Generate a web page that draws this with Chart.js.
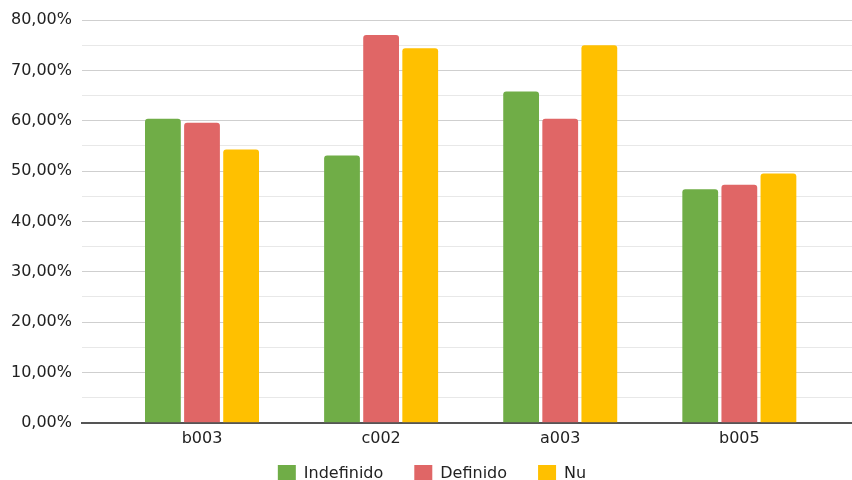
<!DOCTYPE html>
<html>
<head>
<meta charset="utf-8">
<script src="https://cdn.jsdelivr.net/npm/chart.js@4/dist/chart.umd.min.js"></script>
<style>
  html, body { margin: 0; padding: 0; background: #ffffff; }
  #wrap { width: 852px; height: 480px; }
</style>
</head>
<body>
<div id="wrap"><canvas id="chart" width="852" height="480"></canvas></div>
<script>
// Categories and series (percent values)
const categories = ['b003', 'c002', 'a003', 'b005'];
const indefinido = [60.4, 53.1, 65.8, 46.4];
const definido   = [59.6, 77.0, 60.4, 47.3];
const nu         = [54.3, 74.4, 75.0, 49.5];
const seriesNames = ['Indefinido', 'Definido', 'Nu'];
const yTickValues = [0, 10, 20, 30, 40, 50, 60, 70, 80];

const COLORS = ['#70AD47', '#E06666', '#FFC000'];
const FONT = { family: '"DejaVu Sans", sans-serif', size: 16 };
const TEXT = '#222222';

function fmtPct(v) {
  return v.toFixed(2).replace('.', ',') + '%';
}

// pull the legend row up towards the category labels, slightly right of centre
const legendNudge = {
  id: 'legendNudge',
  afterLayout(chart) {
    const lg = chart.legend;
    if (lg) {
      lg.top -= 20; lg.bottom -= 20;
      lg.left += 6; lg.right += 6;
    }
  }
};

const ctx = document.getElementById('chart').getContext('2d');
new Chart(ctx, {
  type: 'bar',
  data: {
    labels: categories,
    datasets: [indefinido, definido, nu].map((values, i) => ({
      label: seriesNames[i],
      data: values,
      backgroundColor: COLORS[i],
      borderWidth: 0,
      borderRadius: 3,
      categoryPercentage: 0.655,
      barPercentage: 0.915
    }))
  },
  plugins: [legendNudge],
  options: {
    responsive: false,
    animation: false,
    devicePixelRatio: 1,
    layout: { padding: { top: 20, left: 0, right: 0, bottom: -32 } },
    plugins: {
      legend: {
        position: 'bottom',
        labels: {
          font: FONT,
          color: TEXT,
          boxWidth: 18,
          boxHeight: 17,
          padding: 31
        }
      },
      tooltip: { enabled: false }
    },
    scales: {
      x: {
        // groups sit inside the gridded area with wide side margins
        afterBuildTicks(scale) {
          scale._startValue = -0.67;
          scale._valueRange = 4.299;
        },
        grid: { display: false, drawTicks: false },
        border: { display: true, color: '#555555', width: 2 },
        ticks: { font: FONT, color: TEXT, padding: 6 }
      },
      y: {
        min: 0,
        max: 80,
        afterFit(scale) { scale.width = 82; },
        afterBuildTicks(scale) {
          // major lines every 10 %, lighter minor lines halfway
          const vals = [];
          yTickValues.forEach((v, i) => {
            vals.push(v);
            if (i < yTickValues.length - 1) vals.push(v + 5);
          });
          scale.ticks = vals.map(v => ({ value: v }));
        },
        border: { display: false },
        grid: {
          drawTicks: false,
          color: c => (c.tick && c.tick.value % 10 === 0) ? '#cfcfcf' : '#e8e8e8',
          lineWidth: 1
        },
        ticks: {
          font: FONT,
          color: TEXT,
          padding: 10,
          autoSkip: false,
          callback: v => (v % 10 === 0 ? fmtPct(v) : '')
        }
      }
    }
  }
});
</script>
</body>
</html>
